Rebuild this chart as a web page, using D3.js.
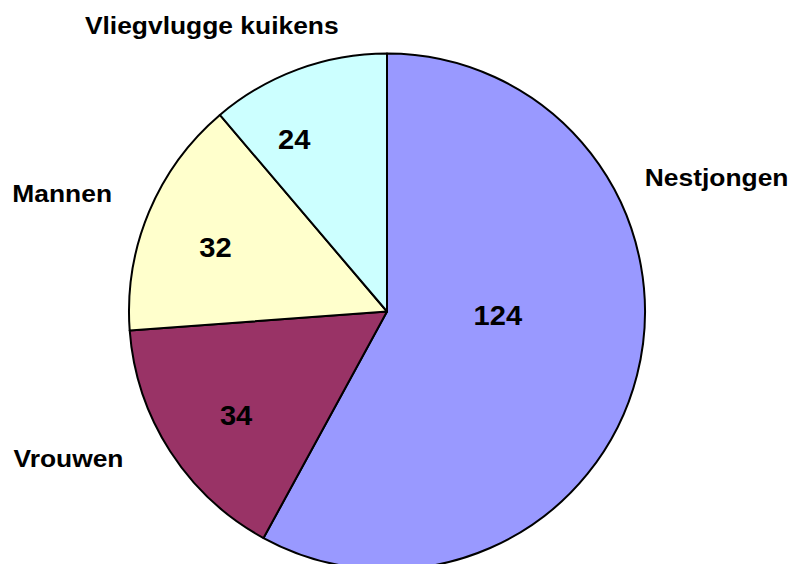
<!DOCTYPE html>
<html>
<head>
<meta charset="utf-8">
<script src="https://cdn.jsdelivr.net/npm/d3@7"></script>
<style>
  body { margin: 0; background: #fff; }
  svg { display: block; }
  text { font-family: "Liberation Sans", Arial, sans-serif; font-weight: bold; fill: #000; }
</style>
</head>
<body>
<div id="chart"></div>
<script>
// data
var categories = ["Nestjongen", "Vrouwen", "Mannen", "Vliegvlugge kuikens"];
var counts = [124, 34, 32, 24];
var sliceColors = ["#9999FF", "#993366", "#FFFFCC", "#CCFFFF"];

// label placement (fraction along each slice, radius as fraction of pie radius)
var valueAt = [0.44, 0.47, 0.46, 0.3];
var valueRad = [0.43, 0.71, 0.71, 0.76];
var nameAt = [0.325, 0.64, 0.45, 0.22];
var nameRad = [1.38, 1.36, 1.34, 1.30];

var svgWidth = 790;
var svgHeight = 564;
var cx = 387, cy = 311.5, radius = 258;

var svg = d3.select("#chart")
  .append("svg")
  .attr("width", svgWidth)
  .attr("height", svgHeight);

var g = svg.append("g")
  .attr("transform", `translate(${cx}, ${cy})`);

var pie = d3.pie()
  .sort(null)
  .value(d => d.value);

var slices = pie(categories.map((c, i) => ({ name: c, value: counts[i], idx: i })));

var arc = d3.arc().innerRadius(0).outerRadius(radius);

g.selectAll("path.slice")
  .data(slices)
  .enter()
  .append("path")
  .attr("class", "slice")
  .attr("d", arc)
  .attr("fill", d => sliceColors[d.data.idx])
  .attr("stroke", "#000")
  .attr("stroke-width", 2)
  .attr("stroke-linejoin", "round");

// point at a fraction along the slice, at a given radius
function pointAt(d, frac, r) {
  var a = d.startAngle + frac * (d.endAngle - d.startAngle);
  return [Math.sin(a) * r, -Math.cos(a) * r];
}

// value labels
g.selectAll("text.value")
  .data(slices)
  .enter()
  .append("text")
  .attr("class", "value")
  .attr("transform", d => {
    var p = pointAt(d, valueAt[d.data.idx], radius * valueRad[d.data.idx]);
    return `translate(${p[0]}, ${p[1]}) scale(1.04, 1)`;
  })
  .attr("text-anchor", "middle")
  .attr("dy", "0.36em")
  .style("font-size", "28px")
  .text(d => d.data.value);

// category labels (Excel renders them a bit wide)
g.selectAll("text.name")
  .data(slices)
  .enter()
  .append("text")
  .attr("class", "name")
  .attr("transform", d => {
    var p = pointAt(d, nameAt[d.data.idx], radius * nameRad[d.data.idx]);
    return `translate(${p[0]}, ${p[1]}) scale(1.1, 1)`;
  })
  .attr("text-anchor", "middle")
  .attr("dy", "0.36em")
  .style("font-size", "24px")
  .text(d => d.data.name);
</script>
</body>
</html>
